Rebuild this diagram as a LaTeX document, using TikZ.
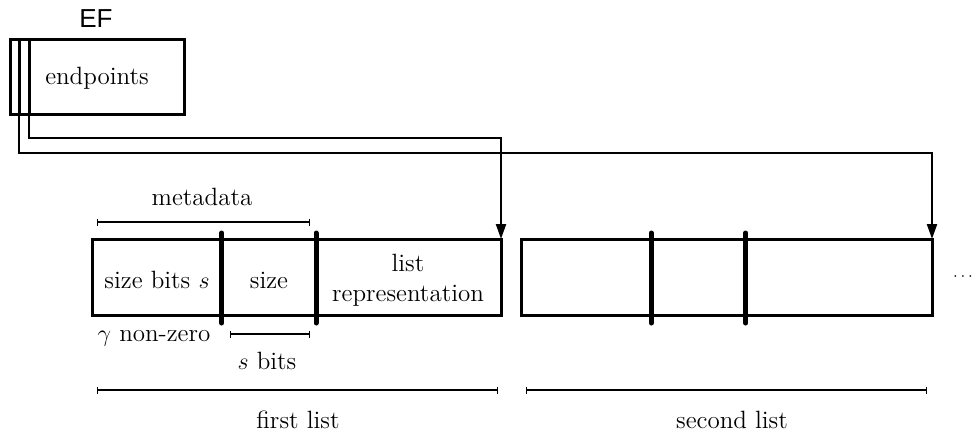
\documentclass[tikz,border=0pt]{standalone}
\usepackage{fontspec}
\newfontfamily\efsans{Liberation Sans}
\usetikzlibrary{arrows.meta}
\begin{document}
\begin{tikzpicture}[x=0.5pt,y=-0.5pt,
  every node/.style={font=\fontsize{12.5}{15}\selectfont, inner sep=0pt, outer sep=0pt},
  box/.style={draw, line width=1.5pt, minimum height=38pt, outer sep=0pt},
  strip/.style={line width=1.5pt},
  link/.style={line width=1.1pt, -{Triangle[length=7.5pt,width=5pt]}},
  divider/.style={line width=2.5pt, line cap=round},
  span/.style={line width=0.65pt, {Bar[width=3.5pt]}-{Bar[width=3.5pt]}}]
\useasboundingbox (0,0) rectangle (975,434);

% Elias-Fano endpoint structure
\node[box, minimum width=87pt, minimum height=37.5pt] (ef) at (97,76.5) {};
\node (eftext) at (97,78.5) {endpoints};
\node[font=\efsans\fontsize{13}{15}\selectfont] (eflabel) at (96,19) {EF};
\draw[strip] (19,39) -- (19,114);
\draw[strip] (29,39) -- (29,114);
\coordinate (s1) at (29,114);
\coordinate (s2) at (19,114);

% the two encoded lists
\node[box, minimum width=204.5pt] (l1) at (296.5,277) {};
\node[box, minimum width=205.5pt] (l2) at (726.5,277) {};

% pointers from the endpoints into the lists
\draw[link] (s1) -- (29,138) -| (l1.north east);
\draw[link] (s2) -- (19,153) -| (l2.north east);

% field separators
\draw[divider] (221.7,233) -- (221.7,323);
\draw[divider] (316,233) -- (316,323);
\draw[divider] (651.3,233) -- (651.3,323);
\draw[divider] (745.7,233) -- (745.7,323);

% field labels
\node (sb) at (157,280) {size bits $s$};
\node (sz) at (269,280) {size};
\node[align=center] (rep) at (408,280) {list\\representation};
\node[font=\fontsize{8}{10}\selectfont] (more) at (963,277) {$\cdots$};

% spans
\draw[span] (97,222) -- (310,222);
\node (meta) at (202,197) {metadata};
\draw[span] (230,334) -- (310,334);
\node (sbits) at (267,361) {$s$\ bits};
\node (gamma) at (154,338) {$\gamma$ non-zero};
\draw[span] (97,390) -- (498,390);
\node (first) at (298,420) {first list};
\draw[span] (526,390) -- (927,390);
\node (second) at (732,420) {second list};
\end{tikzpicture}
\end{document}
